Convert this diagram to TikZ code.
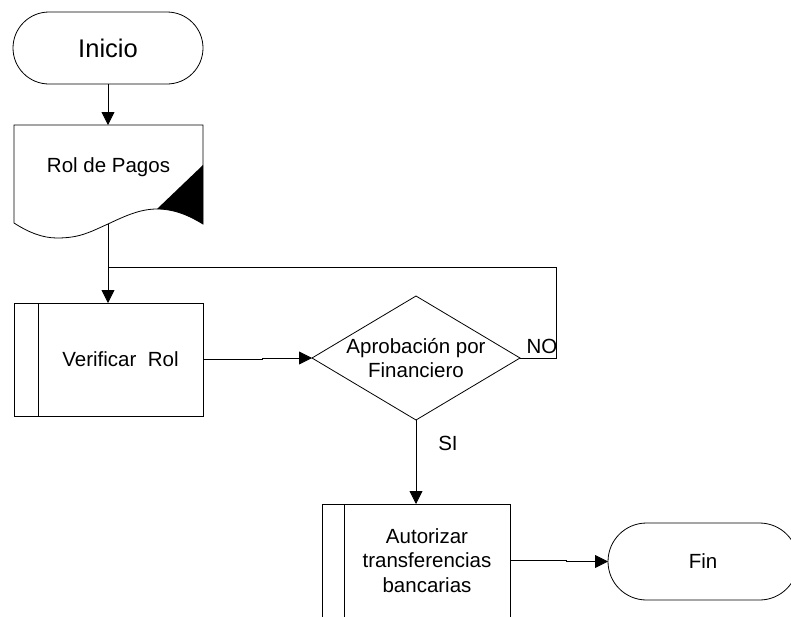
\documentclass[tikz,border=0pt]{standalone}
\usepackage{fontspec}
\setmainfont{Liberation Sans}
\usetikzlibrary{arrows.meta,shapes.geometric,shapes.misc}
\begin{document}
\begin{tikzpicture}[x=1pt,y=-1pt,
  every node/.style={inner sep=0pt, outer sep=0pt, font=\fontsize{20.5}{24.6}\selectfont},
  base/.style={draw, line width=0.8pt},
  terminal/.style={base, rounded rectangle, minimum width=190pt},
  procbox/.style={base, rectangle, minimum width=189pt, minimum height=113pt},
  decision/.style={base, diamond, minimum width=208pt, minimum height=124pt},
  flow/.style={line width=0.8pt, -{Triangle[length=13pt,width=13pt]}},
  link/.style={line width=0.8pt}
]
\useasboundingbox (0,0) rectangle (791,616);
\fill[white] (0,0) rectangle (791,616);
\clip (0,0) rectangle (791,616);

% start terminal
\node[terminal, minimum height=72pt, font=\fontsize{25.5}{30}\selectfont] (ini) at (108,48) {Inicio};

% document: payroll
\node[rectangle, minimum width=189pt, minimum height=99pt,
      label={[yshift=7pt]center:Rol de Pagos}] (rol) at (108.5,174.5) {};
\draw[link] (14,223) -- (14,125) -- (203,125) -- (203,224)
  .. controls (190,216) and (175,209) .. (157,209)
  .. controls (140,209) and (125,216) .. (108,224)
  .. controls (90,232) and (80,238) .. (57,238)
  .. controls (42,238) and (28,232) .. (14,223) -- cycle;
\fill (203,165) -- (157,209) .. controls (175,209) and (190,216) .. (203,224) -- cycle;
\coordinate (rolfoot) at (108,224);

% verify process
\node[procbox, label={[xshift=12pt]center:Verificar~~Rol}] (ver) at (108.5,359.5) {};
\draw[link] ([xshift=24pt]ver.north west) -- ([xshift=24pt]ver.south west);

% decision
\node[decision, label={[align=center]center:Aprobación por\\Financiero}] (dia) at (416,358) {};

% authorise process
\node[procbox, minimum width=188pt,
      label={[xshift=11pt,align=center]center:Autorizar\\transferencias\\bancarias}] (aut) at (416,560.5) {};
\draw[link] ([xshift=22pt]aut.north west) -- ([xshift=22pt]aut.south west);

% end terminal
\node[terminal, minimum height=77pt] (fin) at (703,561.5) {Fin};

% connectors
\coordinate (merge) at (108,267);
\draw[flow] (ini.south) -- (ini.south |- rol.north);
\draw[flow] (rolfoot) -- (rolfoot |- ver.north);
\draw[flow] (ver.east) -- ++(59,0) |- (dia.west);
\draw[link] (dia.east) -- ++(36,0) |- (merge);
\draw[flow] (dia.south) -- (aut.north);
\draw[flow] (aut.east) -- ++(56,0) |- (fin.west);

% branch labels
\node (no) at (542,346) {NO};
\node (si) at (448,443) {SI};
\end{tikzpicture}
\end{document}
